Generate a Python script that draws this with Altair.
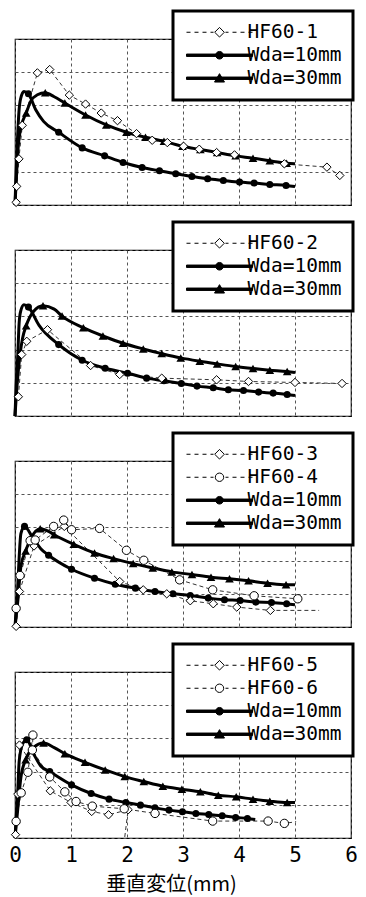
import math
import altair as alt
import pandas as pd

# ---------------- axes ----------------
X_TICKS = [0, 1, 2, 3, 4, 5, 6]
Y_TICKS = [0, 1, 2, 3, 4, 5]
X_TITLE = "垂直変位(mm)"

# ---------------- panel 1 ----------------
P1_W10_EXTRA_X = [0.0, 0.02, 0.045, 0.07, 0.10, 0.16, 0.37, 0.51, 5.0]
P1_W10_EXTRA_Y = [0.0, 1.0, 2.0, 2.8, 3.2, 3.42, 2.87, 2.52, 0.56]
P1_W10_MARK_X = [0.24, 0.78, 1.20, 1.60, 1.93, 2.27, 2.58, 2.87, 3.16, 3.44, 3.72, 4.01, 4.27, 4.55, 4.84]
P1_W10_MARK_Y = [3.35, 2.19, 1.72, 1.48, 1.28, 1.13, 1.03, 0.94, 0.86, 0.79, 0.74, 0.69, 0.66, 0.62, 0.59]
P1_W30_EXTRA_X = [0.0, 0.03, 0.06, 0.10, 0.28, 0.40, 0.70, 5.0]
P1_W30_EXTRA_Y = [0.0, 1.0, 1.8, 2.3, 3.12, 3.32, 3.26, 1.24]
P1_W30_MARK_X = [0.20, 0.54, 0.89, 1.26, 1.63, 1.99, 2.33, 2.66, 2.99, 3.31, 3.61, 3.94, 4.25, 4.55, 4.85]
P1_W30_MARK_Y = [2.77, 3.38, 3.07, 2.71, 2.41, 2.19, 2.04, 1.92, 1.77, 1.67, 1.58, 1.48, 1.41, 1.33, 1.26]
P1_HF1_X = [0.02, 0.03, 0.07, 0.13, 0.40, 0.62, 0.97, 1.26, 1.54, 1.83, 2.17, 2.45, 2.72, 3.01, 3.29, 3.60, 3.92, 4.81, 5.57, 5.80]
P1_HF1_Y = [0.08, 0.56, 1.39, 2.40, 3.98, 4.08, 3.31, 3.04, 2.77, 2.54, 2.15, 1.95, 1.88, 1.77, 1.68, 1.58, 1.51, 1.24, 1.14, 0.89]

# ---------------- panel 2 ----------------
P2_W10_EXTRA_X = [0.0, 0.02, 0.05, 0.075, 0.105, 0.16, 0.43, 5.0]
P2_W10_EXTRA_Y = [0.0, 0.9, 1.85, 2.83, 3.18, 3.35, 2.73, 0.62]
P2_W10_MARK_X = [0.24, 0.78, 1.20, 1.61, 2.01, 2.35, 2.66, 2.97, 3.25, 3.54, 3.81, 4.08, 4.35, 4.61, 4.86]
P2_W10_MARK_Y = [3.28, 2.15, 1.68, 1.44, 1.29, 1.14, 1.06, 0.98, 0.90, 0.85, 0.79, 0.77, 0.72, 0.69, 0.65]
P2_W30_EXTRA_X = [0.0, 0.04, 0.09, 0.135, 0.33, 0.70, 5.0]
P2_W30_EXTRA_Y = [0.0, 1.0, 1.85, 2.34, 3.15, 3.22, 1.31]
P2_W30_MARK_X = [0.20, 0.50, 0.84, 1.22, 1.57, 1.93, 2.29, 2.62, 2.96, 3.30, 3.61, 3.94, 4.25, 4.55, 4.86]
P2_W30_MARK_Y = [2.72, 3.32, 3.01, 2.66, 2.41, 2.19, 2.02, 1.88, 1.75, 1.65, 1.57, 1.49, 1.43, 1.38, 1.34]
P2_HF2_X = [0.06, 0.12, 0.21, 0.58, 1.35, 1.87, 2.62, 3.60, 4.17, 5.00, 5.84]
P2_HF2_Y = [0.58, 1.85, 2.25, 2.60, 1.52, 1.25, 1.14, 1.09, 1.04, 1.01, 0.98]

# ---------------- panel 3 ----------------
P3_W10_EXTRA_X = [0.0, 0.02, 0.046, 0.075, 0.105, 0.31, 0.46, 5.0]
P3_W10_EXTRA_Y = [0.0, 0.5, 1.13, 2.12, 2.81, 2.71, 2.36, 0.67]
P3_W10_MARK_X = [0.17, 0.60, 1.01, 1.42, 1.79, 2.15, 2.50, 2.82, 3.13, 3.45, 3.74, 4.02, 4.30, 4.58, 4.85]
P3_W10_MARK_Y = [3.03, 2.16, 1.74, 1.47, 1.29, 1.17, 1.07, 1.00, 0.95, 0.87, 0.82, 0.80, 0.75, 0.74, 0.70]
P3_W30_EXTRA_X = [0.0, 0.047, 0.105, 0.28, 0.60, 5.0]
P3_W30_EXTRA_Y = [0.0, 0.73, 1.82, 2.66, 2.88, 1.27]
P3_W30_MARK_X = [0.19, 0.45, 0.70, 1.05, 1.42, 1.76, 2.11, 2.46, 2.80, 3.16, 3.50, 3.83, 4.17, 4.51, 4.84]
P3_W30_MARK_Y = [2.29, 2.96, 2.78, 2.49, 2.23, 2.06, 1.91, 1.78, 1.66, 1.58, 1.50, 1.45, 1.39, 1.32, 1.27]
P3_HF3_X = [0.02, 0.08, 0.34, 0.88, 1.87, 2.29, 2.71, 3.13, 3.54, 3.96, 4.56]
P3_HF3_Y = [0.02, 1.07, 2.44, 3.03, 1.37, 1.12, 1.00, 0.79, 0.70, 0.60, 0.50]
P3_HF3_END_X = [5.43]
P3_HF3_END_Y = [0.50]
P3_HF4_X = [0.02, 0.09, 0.27, 0.36, 0.69, 0.87, 1.01, 1.51, 1.99, 2.30, 2.94, 3.53, 4.27, 5.05]
P3_HF4_Y = [0.56, 1.55, 2.60, 2.62, 3.03, 3.22, 2.93, 2.97, 2.31, 2.01, 1.42, 1.12, 0.94, 0.85]

# ---------------- panel 4 ----------------
P4_W10_EXTRA_X = [0.0, 0.02, 0.047, 0.075, 0.135, 0.34, 0.46, 4.29]
P4_W10_EXTRA_Y = [0.0, 0.6, 1.32, 2.32, 2.83, 2.51, 2.17, 0.56]
P4_W10_MARK_X = [0.21, 0.62, 1.01, 1.36, 1.68, 1.98, 2.24, 2.50, 2.75, 2.99, 3.23, 3.46, 3.70, 3.94, 4.15]
P4_W10_MARK_Y = [2.96, 2.00, 1.60, 1.34, 1.17, 1.07, 0.99, 0.91, 0.84, 0.79, 0.74, 0.71, 0.67, 0.62, 0.59]
P4_W30_EXTRA_X = [0.0, 0.047, 0.105, 0.33, 0.70, 5.0]
P4_W30_EXTRA_Y = [0.0, 0.83, 1.82, 2.72, 2.72, 1.07]
P4_W30_MARK_X = [0.19, 0.51, 0.89, 1.25, 1.61, 1.96, 2.30, 2.64, 2.98, 3.31, 3.63, 3.95, 4.25, 4.55, 4.86]
P4_W30_MARK_Y = [2.36, 2.86, 2.54, 2.28, 2.05, 1.85, 1.70, 1.56, 1.47, 1.39, 1.29, 1.24, 1.17, 1.11, 1.07]
P4_HF5_X = [0.01, 0.05, 0.08, 0.63, 1.00, 1.37, 1.67, 2.02]
P4_HF5_Y = [0.10, 1.32, 2.80, 1.42, 1.07, 0.80, 0.70, 0.85]
P4_HF5_END_X = [1.96]
P4_HF5_END_Y = [0.03]
P4_HF6_X = [0.02, 0.11, 0.23, 0.32, 0.31, 0.62, 0.89, 1.09, 1.38, 1.95, 2.50, 3.53, 4.52, 4.81]
P4_HF6_Y = [0.50, 1.36, 1.98, 3.10, 2.65, 1.84, 1.39, 1.10, 0.96, 0.88, 0.74, 0.51, 0.51, 0.44]
P4_HF6_END_X = [5.02]
P4_HF6_END_Y = [0.49]

# ---------------- styling ----------------
MONO = "DejaVu Sans Mono"
CJK = "Noto Sans CJK JP"


def poly_circle(r, n=16):
    pts = [(r * math.cos(2 * math.pi * k / n), r * math.sin(2 * math.pi * k / n)) for k in range(n)]
    return "M" + "L".join(f"{px:.3f},{py:.3f}" for px, py in pts) + "Z"


# legend symbols (custom paths: line + marker), unit = 4 px
SOLID = "M-8.25,-0.3L8.25,-0.3L8.25,0.3L-8.25,0.3Z"
DASHED = ("M-8.25,0L-7.25,0M-6.25,0L-5.25,0M-4.25,0L-3.25,0M-2.25,0L-1.5,0"
          "M1.5,0L2.25,0M3.25,0L4.25,0M5.25,0L6.25,0M7.25,0L8.25,0")
SYM = {
    "diamond": DASHED + "M0,-1.2L1.2,0L0,1.2L-1.2,0Z",
    "circle_o": DASHED + poly_circle(1.05),
    "w10": SOLID + poly_circle(0.95),
    "w30": SOLID + "M0,-1.15L1.25,0.95L-1.25,0.95Z",
}


def sim_df(ex, ey, mx, my):
    df = pd.DataFrame({"x": list(ex) + list(mx), "y": list(ey) + list(my)})
    return df.sort_values("x").reset_index(drop=True)


def exp_dfs(xs, ys, end_x=(), end_y=()):
    line = pd.DataFrame({"x": list(xs) + list(end_x), "y": list(ys) + list(end_y)})
    line["i"] = range(len(line))
    marks = pd.DataFrame({"x": list(xs), "y": list(ys)})
    return line, marks


def encodings(bottom):
    common = dict(grid=True, ticks=False, domain=False, gridColor="#555",
                  gridDash=[3, 3], gridWidth=1)
    if bottom:
        xa = alt.Axis(values=X_TICKS, labels=True, labelFont=MONO, labelFontSize=21,
                      labelColor="black", labelPadding=6, labelFlush=False,
                      title=X_TITLE, titleFont=CJK, titleFontSize=20,
                      titleFontWeight="normal", titleColor="black", titlePadding=9,
                      titleX=156, titleAlign="center", **common)
    else:
        xa = alt.Axis(values=X_TICKS, labels=False, title=None, **common)
    ya = alt.Axis(values=Y_TICKS, labels=False, title=None, **common)
    x = alt.X("x:Q", scale=alt.Scale(domain=[0, 6], nice=False), axis=xa)
    y = alt.Y("y:Q", scale=alt.Scale(domain=[0, 5], nice=False), axis=ya)
    return x, y


def panel(exps, sims, names, syms, fills, bottom=False):
    x, y = encodings(bottom)
    layers = []
    for (line, marks), shape in exps:
        layers.append(alt.Chart(line).mark_line(color="#333", strokeWidth=1, strokeDash=[4, 3])
                      .encode(x=x, y=y, order="i:Q"))
    for line, marks, shape, size in sims:
        layers.append(alt.Chart(line).mark_line(color="black", strokeWidth=3,
                                                interpolate="monotone").encode(x=x, y=y))
        layers.append(alt.Chart(marks).mark_point(shape=shape, filled=True, color="black",
                                                  size=size, opacity=1).encode(x=x, y=y))
    for (line, marks), shape in exps:
        layers.append(alt.Chart(marks).mark_point(shape=shape, filled=True, fill="white",
                                                  stroke="black", strokeWidth=1, size=70,
                                                  opacity=1).encode(x=x, y=y))
    leg = alt.Legend(title=None, orient="none", direction="vertical", legendX=158,
                     legendY=-28, symbolSize=64, symbolOffset=25.25, labelOffset=18.25,
                     labelFont=MONO, labelFontSize=19.5, labelColor="black",
                     labelLimit=300, padding=11.5, rowPadding=2, strokeColor="black",
                     fillColor="white", symbolStrokeColor="black", symbolStrokeWidth=1,
                     symbolOpacity=1, zindex=2)
    leg_df = pd.DataFrame({"series": names})
    layers.append(
        alt.Chart(leg_df).transform_filter("false")
        .mark_point(color="black", opacity=1, strokeWidth=1, size=64)
        .encode(shape=alt.Shape("series:N", scale=alt.Scale(domain=names, range=[SYM[s] for s in syms]), legend=leg),
                fill=alt.Fill("series:N", scale=alt.Scale(domain=names, range=fills), legend=leg),
                stroke=alt.Stroke("series:N", scale=alt.Scale(domain=names, range=["black"] * len(names)), legend=leg))
    )
    return alt.layer(*layers).properties(width=336, height=166)


def sims_for(w10, w30):
    return [
        (sim_df(*w10), pd.DataFrame({"x": w10[2], "y": w10[3]}), "circle", 50),
        (sim_df(*w30), pd.DataFrame({"x": w30[2], "y": w30[3]}), "triangle-up", 75),
    ]


p1 = panel(
    [(exp_dfs(P1_HF1_X, P1_HF1_Y), "diamond")],
    sims_for((P1_W10_EXTRA_X, P1_W10_EXTRA_Y, P1_W10_MARK_X, P1_W10_MARK_Y),
             (P1_W30_EXTRA_X, P1_W30_EXTRA_Y, P1_W30_MARK_X, P1_W30_MARK_Y)),
    ["HF60-1", "Wda=10mm", "Wda=30mm"], ["diamond", "w10", "w30"],
    ["white", "black", "black"])

p2 = panel(
    [(exp_dfs(P2_HF2_X, P2_HF2_Y), "diamond")],
    sims_for((P2_W10_EXTRA_X, P2_W10_EXTRA_Y, P2_W10_MARK_X, P2_W10_MARK_Y),
             (P2_W30_EXTRA_X, P2_W30_EXTRA_Y, P2_W30_MARK_X, P2_W30_MARK_Y)),
    ["HF60-2", "Wda=10mm", "Wda=30mm"], ["diamond", "w10", "w30"],
    ["white", "black", "black"])

p3 = panel(
    [(exp_dfs(P3_HF3_X, P3_HF3_Y, P3_HF3_END_X, P3_HF3_END_Y), "diamond"),
     (exp_dfs(P3_HF4_X, P3_HF4_Y), "circle")],
    sims_for((P3_W10_EXTRA_X, P3_W10_EXTRA_Y, P3_W10_MARK_X, P3_W10_MARK_Y),
             (P3_W30_EXTRA_X, P3_W30_EXTRA_Y, P3_W30_MARK_X, P3_W30_MARK_Y)),
    ["HF60-3", "HF60-4", "Wda=10mm", "Wda=30mm"], ["diamond", "circle_o", "w10", "w30"],
    ["white", "white", "black", "black"])

p4 = panel(
    [(exp_dfs(P4_HF5_X, P4_HF5_Y, P4_HF5_END_X, P4_HF5_END_Y), "diamond"),
     (exp_dfs(P4_HF6_X, P4_HF6_Y, P4_HF6_END_X, P4_HF6_END_Y), "circle")],
    sims_for((P4_W10_EXTRA_X, P4_W10_EXTRA_Y, P4_W10_MARK_X, P4_W10_MARK_Y),
             (P4_W30_EXTRA_X, P4_W30_EXTRA_Y, P4_W30_MARK_X, P4_W30_MARK_Y)),
    ["HF60-5", "HF60-6", "Wda=10mm", "Wda=30mm"], ["diamond", "circle_o", "w10", "w30"],
    ["white", "white", "black", "black"], bottom=True)

chart = (
    alt.vconcat(p1, p2, p3, p4, spacing=45, bounds="flush")
    .resolve_scale(shape="independent", fill="independent", stroke="independent")
    .properties(padding=0)
    .configure_view(stroke="black", strokeWidth=1.2)
    .configure_legend(strokeWidth=3)
)

chart.save("out.html", embed_options={"renderer": "svg", "actions": False})
